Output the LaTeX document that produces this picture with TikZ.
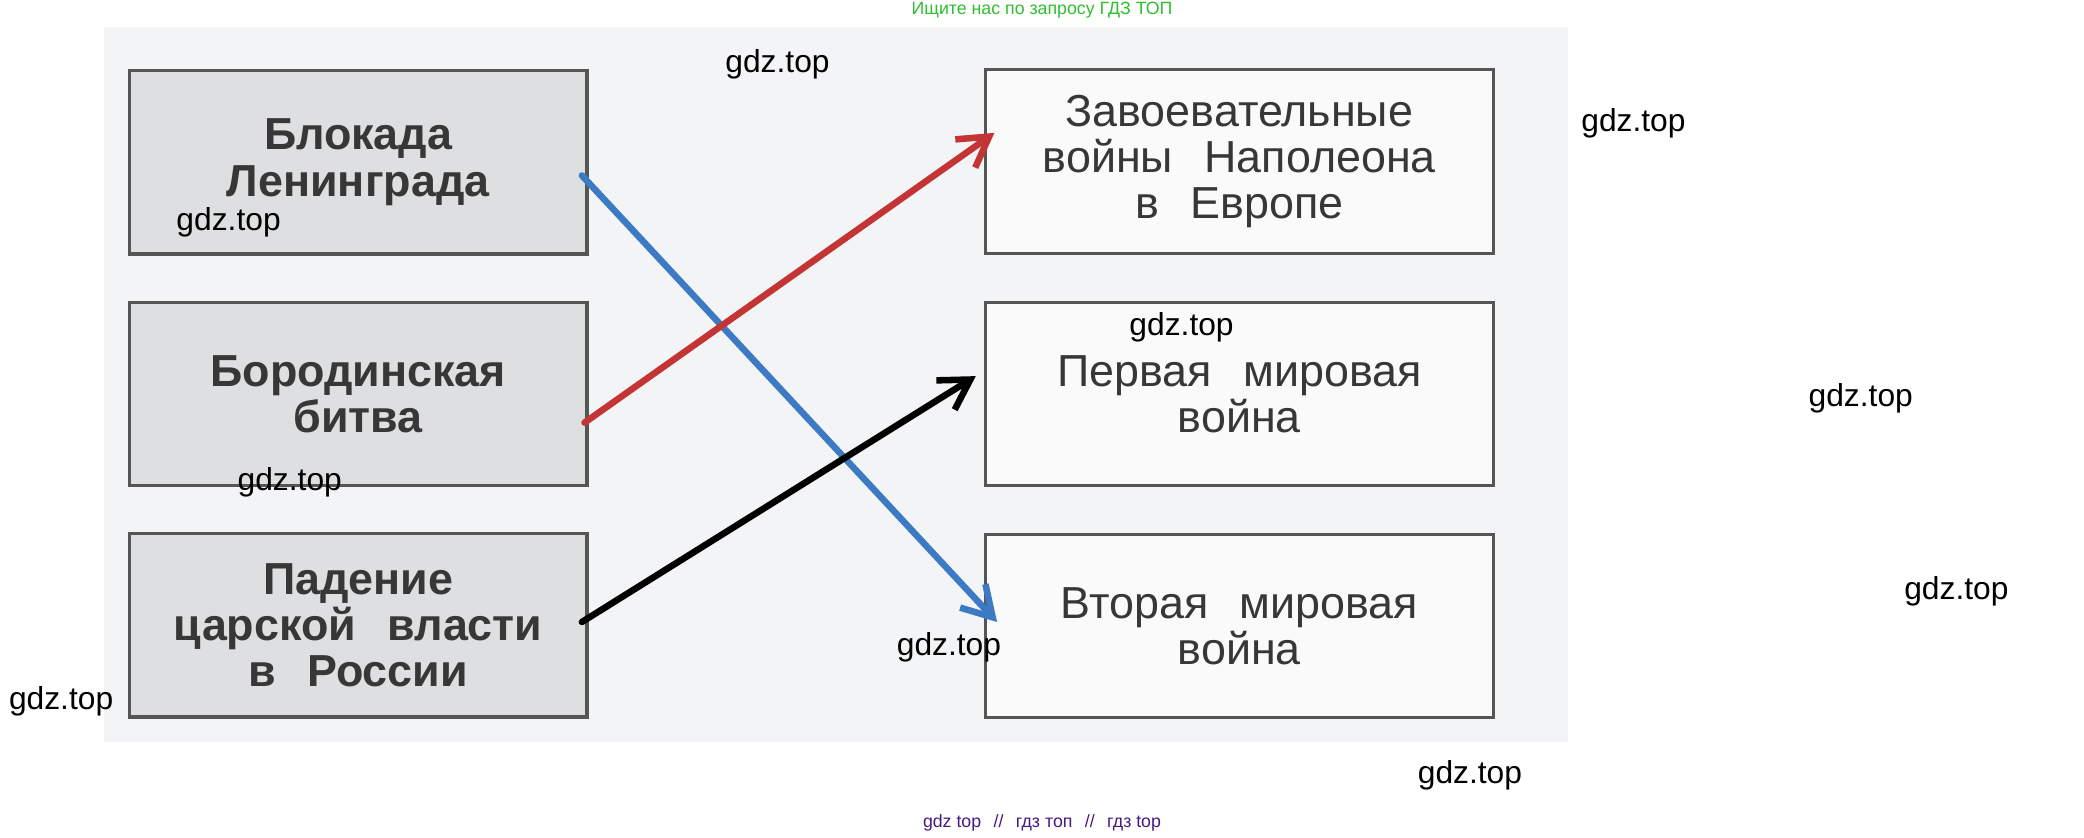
\documentclass[tikz,border=0pt]{standalone}
\usepackage{fontspec}
\setmainfont{Liberation Sans}
\usetikzlibrary{positioning}
\usetikzlibrary{arrows.meta}

\definecolor{scanbg}{RGB}{243,244,246}
\definecolor{leftfill}{RGB}{222,223,224}
\definecolor{rightfill}{RGB}{250,250,250}
\definecolor{boxline}{RGB}{85,85,85}
\definecolor{boxtext}{RGB}{55,55,55}
\definecolor{linkblue}{RGB}{60,122,196}
\definecolor{linkred}{RGB}{196,52,52}
\definecolor{adgreen}{RGB}{46,190,46}
\definecolor{adpurple}{RGB}{72,24,130}

\newcommand{\wgap}{\hspace{0.7em}}

\tikzset{
    lbox/.style={rectangle, draw=boxline, line width=1.8pt, fill=leftfill,
        text=boxtext, minimum width=8.6cm, minimum height=3.45cm, align=center,
        font=\fontsize{24}{24.8}\selectfont\bfseries},
    rbox/.style={rectangle, draw=boxline, line width=1.8pt, fill=rightfill,
        text=boxtext, minimum width=9.55cm, minimum height=3.45cm, align=center,
        font=\fontsize{24}{24.5}\selectfont},
    wm/.style={font=\fontsize{17}{17}\selectfont, text=black},
    link/.style={line width=3.5pt, line cap=round,
        -{Straight Barb[length=0.55cm,width=0.65cm]}}
}

\begin{document}
\begin{tikzpicture}[x=0.025cm, y=-0.025cm]
        \useasboundingbox (0,0) rectangle (1568,630);
        \fill[scanbg] (78,20) rectangle (1180,558);

        % events
        \node[lbox] (blokada) at (269.5,122) {Блокада\\Ленинграда};
        \node[lbox] (borodino) at (269.5,296.5) {Бородинская\\битва};
        \node[lbox] (padenie) at (269.5,470.5) {Падение\\царской\wgap власти\\в\wgap России};

        % wars
        \node[rbox] (napoleon) at (932.5,121.5) {Завоевательные\\войны\wgap Наполеона\\в\wgap Европе};
        \node[rbox] (pervaya) at (932.5,296.5) {Первая\wgap мировая\\война};
        \node[rbox] (vtoraya) at (932.5,471) {Вторая\wgap мировая\\война};

        \draw[link, linkblue] ([shift={(-5,10)}]blokada.east) --
            ([shift={(10,-3)}]vtoraya.west);
        \draw[link, linkred] ([shift={(-3,21.5)}]borodino.east) --
            ([shift={(8,-21.5)}]napoleon.west);
        \draw[link, black] ([shift={(-5,-2.5)}]padenie.east) --
            ([shift={(-6,-13.5)}]pervaya.west);

        % watermarks
        \node[wm] (wm1) at (585,48) {gdz.top};
        \node[wm] (wm2) at (1229,93) {gdz.top};
        \node[wm] (wm3) at (172,167) {gdz.top};
        \node[wm] (wm4) at (889,246) {gdz.top};
        \node[wm] (wm5) at (1400,300) {gdz.top};
        \node[wm] (wm6) at (218,363) {gdz.top};
        \node[wm] (wm7) at (1472,445) {gdz.top};
        \node[wm] (wm8) at (714,487) {gdz.top};
        \node[wm] (wm9) at (46,528) {gdz.top};
        \node[wm] (wm10) at (1106,583) {gdz.top};

        \node[font=\fontsize{9.5}{10}\selectfont, text=adgreen] (ad) at (784,8)
            {Ищите нас по запросу ГДЗ ТОП};
        \node[font=\fontsize{9.5}{10}\selectfont, text=adpurple] (foot) at (784,619)
            {gdz top\wgap//\wgap гдз топ\wgap//\wgap гдз top};
    \end{tikzpicture}
\end{document}
